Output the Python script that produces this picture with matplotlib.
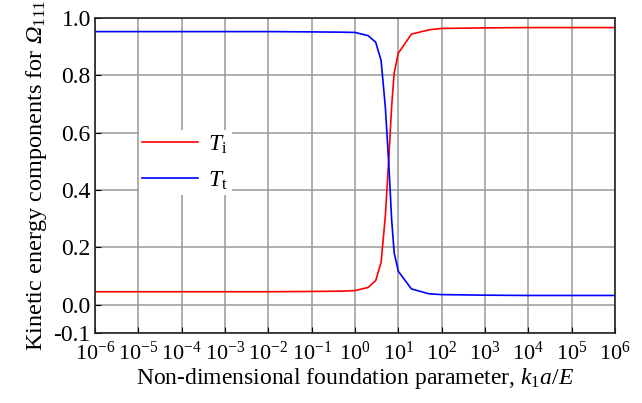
import numpy as np
import matplotlib
matplotlib.use("Agg")
import matplotlib.pyplot as plt

plt.rcParams['font.family'] = ['Liberation Serif', 'DejaVu Serif']
plt.rcParams['mathtext.fontset'] = 'custom'
plt.rcParams['mathtext.rm'] = 'Liberation Serif'
plt.rcParams['mathtext.it'] = 'Liberation Serif:italic'
plt.rcParams['mathtext.bf'] = 'Liberation Serif:bold'
plt.rcParams['mathtext.cal'] = 'Liberation Serif:italic'  # para Omega en cursiva
plt.rcParams['axes.unicode_minus'] = False

# datos
k_param = [1e-6, 1e-5, 1e-4, 1e-3, 1e-2, 1e-1, 0.5, 1, 2, 3, 4, 5, 6, 7, 8,
           10, 20, 50, 100, 1e3, 1e4, 1e5, 1e6]
T_i = [0.045, 0.045, 0.045, 0.045, 0.045, 0.046, 0.047, 0.049, 0.060, 0.084,
       0.148, 0.308, 0.506, 0.692, 0.809, 0.878, 0.944, 0.959, 0.964, 0.966,
       0.967, 0.967, 0.967]
T_t = [0.953, 0.953, 0.953, 0.953, 0.953, 0.952, 0.951, 0.950, 0.939, 0.916,
       0.852, 0.690, 0.494, 0.297, 0.181, 0.116, 0.055, 0.038, 0.035, 0.033,
       0.032, 0.032, 0.032]
y_ticks = [-0.1, 0.0, 0.2, 0.4, 0.6, 0.8, 1.0]

fig = plt.figure(figsize=(6.42, 4.03), dpi=100)
ax = fig.add_axes([0.148, 0.173, 0.81, 0.782])

ax.plot(k_param, T_i, color='red', linewidth=1.2, label=r'$T_\mathrm{i}$')
ax.plot(k_param, T_t, color='blue', linewidth=1.2, label=r'$T_\mathrm{t}$')

ax.set_xscale('log')
ax.set_xlim(1e-6, 1e6)
ax.set_ylim(-0.1, 1.0)
ax.set_xticks([10.0**e for e in range(-6, 7)])
ax.set_xticklabels([f'$10^{{{e}}}$' for e in range(-6, 7)])
ax.minorticks_off()
ax.set_yticks(y_ticks)
ax.set_yticklabels([f'{v:.1f}' for v in y_ticks])

ax.grid(True, color='#999999', linewidth=1.1)
ax.tick_params(direction='in', length=4, labelsize=17)
ax.tick_params(axis='x', pad=6, labelsize=16)
ax.tick_params(axis='y', pad=3)
for s in ax.spines.values():
    s.set_linewidth(1.2)
    s.set_color('#222222')

ax.set_xlabel(r'Non-dimensional foundation parameter, $k_\mathrm{1}a/E$', fontsize=17, labelpad=1)
ax.set_ylabel(r'Kinetic energy components for $\mathcal{\Omega}_\mathrm{111}$', fontsize=17.5, labelpad=3)

leg = ax.legend(loc='upper left', bbox_to_anchor=(0.084, 0.645), fontsize=17,
                handlelength=2.35, labelspacing=0.58, frameon=True, fancybox=False,
                borderpad=0.15, handletextpad=0.45, borderaxespad=0)
leg.get_frame().set_edgecolor('none')
leg.get_frame().set_facecolor('white')
leg.get_frame().set_alpha(1.0)

fig.savefig('out.png', dpi=100)
